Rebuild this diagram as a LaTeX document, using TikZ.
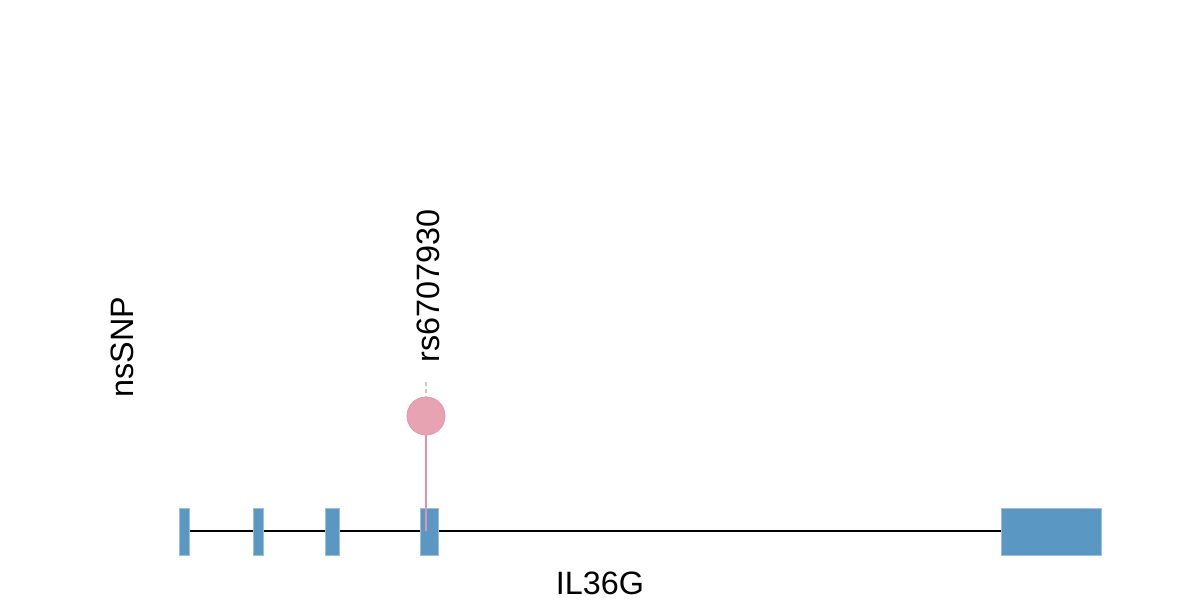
\documentclass[tikz,border=0pt]{standalone}
\usepackage{fontspec}
\setmainfont{Liberation Sans}
\definecolor{exonblue}{HTML}{5B97C3}
\definecolor{exonedge}{HTML}{9CC0DC}
\definecolor{snppink}{HTML}{E8A3B2}
\definecolor{snpedge}{HTML}{E895AC}
\definecolor{stempink}{HTML}{E590AA}
\begin{document}
\begin{tikzpicture}[x=0.025cm,y=-0.025cm,
  exon/.style={fill=exonblue,draw=exonedge,line width=0.4pt},
  lbl/.style={font=\fontsize{23}{26}\selectfont,inner sep=0pt}]
\useasboundingbox (0,0) rectangle (1200,600);
% backbone
\coordinate (gs) at (189,531);
\coordinate (ge) at (1001,531);
\draw[line width=1.6pt] (gs) -- (ge);
% exons
\path[exon] (179,508) rectangle (189,555);
\path[exon] (253,508) rectangle (263,555);
\path[exon] (325,508) rectangle (339,555);
\path[exon] (420,508) rectangle (438,555);
\path[exon] (1001,508) rectangle (1101,555);
% SNP
\coordinate (base) at (426,531);
\node[circle,minimum size=38*0.025cm,inner sep=0pt,fill=snppink,draw=snpedge,line width=0.6pt] (snp) at (426,416) {};
\draw[stempink,line width=1.2pt] (snp.south) -- (base);
\coordinate (dtop) at (426,382);
\draw[gray!45,line width=1pt,dash pattern=on 3pt off 2pt] (dtop) -- (snp.north);
\node[lbl,rotate=90,anchor=west] (rs) at (428,363) {rs6707930};
\node[lbl,rotate=90] (ns) at (122,347) {nsSNP};
\node[lbl] (gene) at (600,583) {IL36G};
\end{tikzpicture}
\end{document}
